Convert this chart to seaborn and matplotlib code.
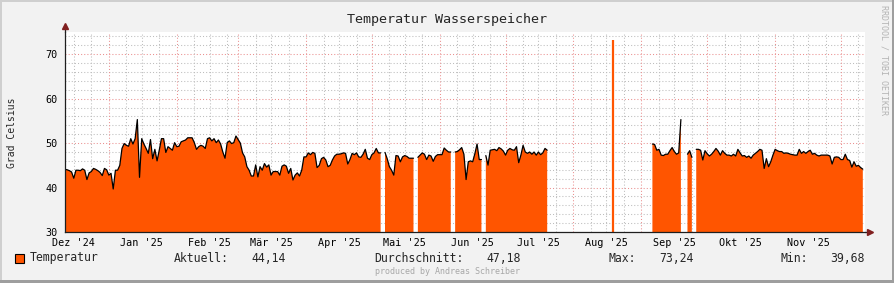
import numpy as np
import pandas as pd
import matplotlib
matplotlib.use("Agg")
import matplotlib.pyplot as plt
import seaborn as sns
from matplotlib.patches import Rectangle

nan = np.nan

# daily values, series starts 2024-12-12
dec24 = [44.1, 44.0, 43.8, 43.5, 42.1, 43.9, 43.9, 43.8, 44.2, 43.9,
         41.8, 43.3, 43.6, 44.3, 44.1, 43.8, 43.4, 42.7, 44.3, 44.0]
jan25 = [42.8, 43.2, 39.68, 43.9, 43.9, 45.0, 48.8, 49.9, 49.5, 49.3,
         51.0, 49.8, 51.0, 55.3, 42.3, 51.0, 49.8, 48.8, 47.7, 50.8,
         46.5, 48.6, 46.0, 48.4, 51.0, 51.0, 47.9, 49.2, 48.8, 48.4, 50.1]
feb25 = [49.2, 49.3, 50.3, 50.5, 50.7, 51.2, 51.2, 51.2, 50.1, 48.6,
         49.2, 49.5, 49.3, 48.8, 51.0, 51.2, 50.5, 51.0, 50.1, 50.7,
         49.8, 48.0, 46.6, 50.1, 50.5, 49.9, 50.1, 51.6]
mar25 = [50.8, 50.0, 47.8, 46.9, 44.7, 43.9, 42.6, 42.6, 45.1, 42.4,
         44.7, 43.9, 45.4, 44.6, 45.1, 42.8, 43.6, 43.6, 43.6, 42.8,
         44.8, 45.1, 44.8, 43.2, 44.3, 41.7, 42.8, 43.3, 42.6, 43.9, 46.9]
apr25 = [46.9, 47.8, 47.4, 47.9, 47.7, 44.5, 45.0, 46.5, 46.8, 46.2,
         44.7, 45.0, 46.2, 47.1, 47.5, 47.5, 47.6, 47.8, 47.7, 45.3,
         46.3, 47.7, 47.4, 47.8, 46.9, 46.8, 47.5, 48.6, 46.6, 46.3]
may25 = [47.4, 47.8, 48.8, 47.8, 47.8, nan, 47.9, 46.5, 44.7, 43.9,
         42.8, 47.2, 47.1, 45.8, 46.9, 47.2, 47.0, 46.6, 46.6, 46.6,
         nan, 46.8, 47.3, 47.8, 47.5, 46.3, 47.3, 47.1, 45.9, 47.0, 47.4]
jun25 = [47.4, 47.4, 48.9, 48.4, 48.0, 48.0, nan, 48.0, 48.1, 48.5,
         49.0, 47.5, 41.8, 45.8, 46.0, 45.8, 47.6, 49.8, 46.3, 46.3,
         nan, 47.2, 45.05, 48.4, 48.5, 48.6, 48.3, 49.0, 48.7, 48.2]
jul25 = [47.3, 48.4, 48.8, 48.5, 48.4, 49.2, 45.6, 47.3, 49.5, 48.0,
         47.7, 48.0, 47.5, 48.0, 47.3, 48.0, 47.4, 47.8, 48.8, 48.4,
         nan, nan, nan, nan, nan, nan, nan, nan, nan, nan, nan]
aug25 = [nan] * 18 + [73.24] + [nan] * 12
sep25 = [nan, nan, nan, nan, nan, 49.8, 49.7, 48.4, 48.6, 47.3,
         47.2, 47.5, 47.5, 48.3, 49.0, 48.1, 47.5, 47.8, 55.3, nan,
         nan, 47.5, 48.3, 46.8, nan, 48.6, 48.6, 48.4, 46.2, 48.3]
oct25 = [47.6, 47.1, 47.5, 48.1, 48.8, 48.2, 47.3, 48.3, 47.7, 47.3,
         47.3, 47.1, 47.5, 47.1, 48.6, 47.8, 47.1, 47.2, 46.8, 47.1,
         46.6, 47.3, 47.7, 48.1, 48.6, 48.4, 44.3, 46.5, 44.7, 45.8, 47.3]
nov25 = [48.6, 48.3, 48.1, 48.1, 47.7, 47.8, 47.7, 47.5, 47.4, 47.3,
         47.3, 48.6, 47.7, 48.1, 47.7, 48.1, 48.4, 47.5, 47.7, 47.3,
         47.1, 47.3, 47.3, 47.3, 47.3, 47.1, 45.3, 46.8, 46.9, 46.8]
dec25 = [46.3, 46.3, 47.5, 46.3, 46.1, 44.6, 45.8, 44.8, 45.0, 44.5, 44.14]

series_start = "2024-12-12"
month_labels = ["Dez '24", "Jan '25", "Feb '25", "M\u00e4r '25", "Apr '25", "Mai '25",
                "Jun '25", "Jul '25", "Aug '25", "Sep '25", "Okt '25", "Nov '25"]
y_ticks = [30, 40, 50, 60, 70]
series_name = "Temperatur"
stat_labels = ["Aktuell:", "Durchschnitt:", "Max:", "Min:"]
stat_values = ["44,14", "47,18", "73,24", "39,68"]

ORANGE = "#ff5500"
W, H = 895, 283

temps = np.array(dec24 + jan25 + feb25 + mar25 + apr25 + may25 + jun25 +
                 jul25 + aug25 + sep25 + oct25 + nov25 + dec25, dtype=float)
dates = pd.date_range(series_start, periods=len(temps), freq="D")
df = pd.DataFrame({"date": dates, "temp": temps})

sns.set_style("white")
plt.rcParams["font.family"] = ["DejaVu Sans Mono", "DejaVu Sans"]

fig = plt.figure(figsize=(W / 100, H / 100), dpi=100, facecolor="#f2f2f2")
ax = fig.add_axes([65 / W, 51 / H, 800 / W, 200 / H])
ax.set_facecolor("white")
x0 = pd.Timestamp(series_start)
x1 = x0 + pd.Timedelta(days=365)
ax.set_xlim(x0, x1)
ax.set_ylim(30, 75)

# grid
gkw = dict(lw=0.75, linestyle=(0, (1, 2)), zorder=0.5)
for v in np.arange(32, 75, 2):
    if v % 10:
        ax.axhline(v, color="#bdbdbd", **gkw)
for v in y_ticks[1:]:
    ax.axhline(v, color="#eb9090", **gkw)
month_starts = pd.date_range("2025-01-01", "2025-12-01", freq="MS")
for m in pd.date_range("2024-12-01", "2025-12-01", freq="MS"):
    for dday in (9, 16, 24):
        t = m + pd.Timedelta(days=dday - 1)
        if x0 < t < x1:
            ax.axvline(t, color="#bdbdbd", **gkw)
for t in month_starts:
    ax.axvline(t, color="#eb9090", **gkw)

# area + outline
ax.fill_between(df["date"], 30, df["temp"], color=ORANGE, lw=0, zorder=2)
valid = df["temp"].notna().to_numpy()
seg_id = np.cumsum(~valid)
for sid in np.unique(seg_id[valid]):
    seg = df[valid & (seg_id == sid)]
    if len(seg) > 1:
        sns.lineplot(data=seg, x="date", y="temp", color="black", lw=0.9,
                     ax=ax, zorder=3)
    else:
        ax.vlines(seg["date"], 30, seg["temp"], color=ORANGE, lw=1.6, zorder=3)

# axes styling
for s in ["top", "right"]:
    ax.spines[s].set_visible(False)
for s in ["left", "bottom"]:
    ax.spines[s].set_color("#1f1f1f")
    ax.spines[s].set_linewidth(0.9)
    ax.spines[s].set_zorder(4)
ax.set_yticks(y_ticks)
ax.set_yticklabels([str(v) for v in y_ticks])
mid = [pd.Timestamp(f"{m.year}-{m.month:02d}-16") for m in
       pd.date_range("2024-12-01", "2025-11-01", freq="MS")]
ax.set_xticks(mid)
ax.set_xticklabels(month_labels)
ax.tick_params(axis="both", length=0, labelsize=7.3, colors="black")
ax.tick_params(axis="y", pad=5.5)
ax.tick_params(axis="x", pad=4)
ax.set_xlabel("")
ax.set_ylabel("")

# arrows
ax.plot([0, 0], [1, 1.03], transform=ax.transAxes, color="#1f1f1f", lw=0.9,
        clip_on=False)
ax.plot([0], [1.03], marker="^", markersize=4, color="#801f1f",
        transform=ax.transAxes, clip_on=False)
ax.plot([1, 1.004], [0, 0], transform=ax.transAxes, color="#1f1f1f", lw=0.9,
        clip_on=False)
ax.plot([1.006], [0], marker=">", markersize=4, color="#801f1f",
        transform=ax.transAxes, clip_on=False)

# texts
def fy(y):
    return (H - y) / H

fig.text(0.5, fy(20), "Temperatur Wasserspeicher", ha="center", va="center",
         fontsize=9.6)
fig.text(12 / W, fy(133), "Grad Celsius", rotation=90, ha="center",
         va="center", fontsize=7)
fig.text(884 / W, fy(60), "RRDTOOL / TOBI OETIKER", rotation=270, ha="center",
         va="center", fontsize=6, color="#b4b4b4")
fig.text(448 / W, fy(272), "produced by Andreas Schreiber", ha="center",
         va="center", fontsize=6, color="#a8a8a8")

fig.patches.append(Rectangle((15 / W, fy(263)), 9 / W, 9 / H,
                             transform=fig.transFigure, facecolor=ORANGE,
                             edgecolor="black", lw=0.8))
fig.text(30 / W, fy(258), series_name, ha="left", va="center", fontsize=8.3)
lab_x = [174, 374, 609, 781]
val_x = [251, 486, 659, 830]
for lx, vx, lt, vt in zip(lab_x, val_x, stat_labels, stat_values):
    fig.text(lx / W, fy(258), lt, ha="left", va="center", fontsize=8.3)
    fig.text(vx / W, fy(258), vt, ha="left", va="center", fontsize=8.3)

# frame shading
fig.patches.append(Rectangle((0, 0), 1, 2 / H, transform=fig.transFigure,
                             facecolor="#cfcfcf", lw=0) if False else
                   Rectangle((0, 1 - 2 / H), 1, 2 / H, transform=fig.transFigure,
                             facecolor="#cfcfcf", lw=0))
fig.patches.append(Rectangle((0, 0), 2 / W, 1, transform=fig.transFigure,
                             facecolor="#cfcfcf", lw=0))
fig.patches.append(Rectangle((0, 0), 1, 3 / H, transform=fig.transFigure,
                             facecolor="#9e9e9e", lw=0))
fig.patches.append(Rectangle((1 - 3 / W, 0), 3 / W, 1, transform=fig.transFigure,
                             facecolor="#9e9e9e", lw=0))

fig.savefig("out.png", dpi=100, facecolor=fig.get_facecolor())
